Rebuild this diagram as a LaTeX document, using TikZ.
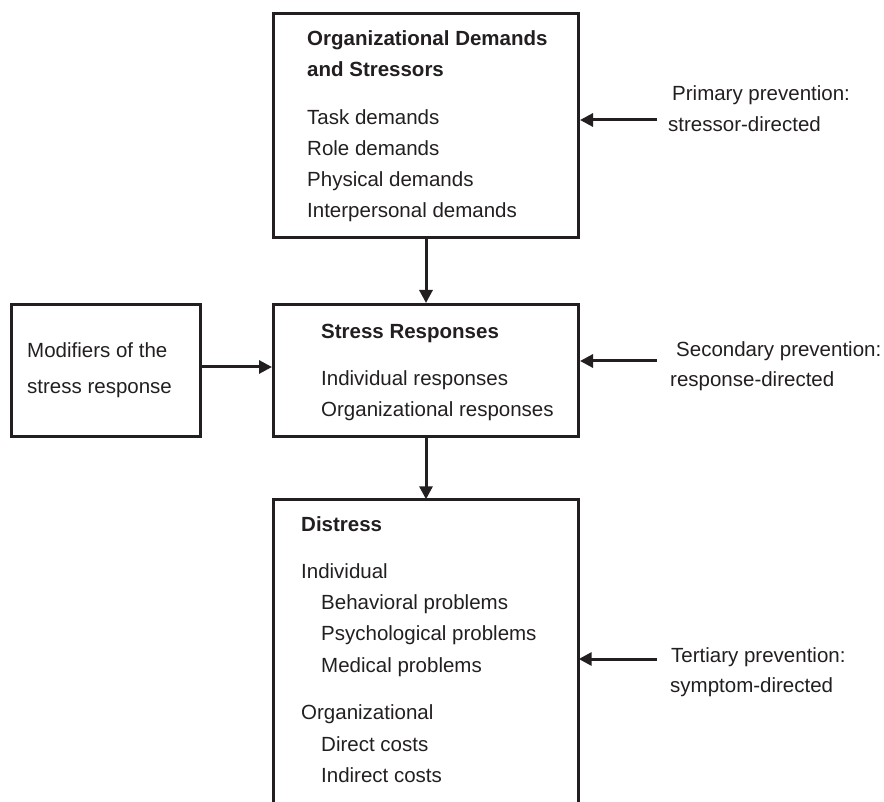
\documentclass[tikz,border=0pt]{standalone}
\usepackage{fontspec}
\setmainfont{Liberation Sans}
\usetikzlibrary{arrows.meta}
\definecolor{ink}{RGB}{35,31,32}
\begin{document}
\begin{tikzpicture}[x=1pt,y=-1pt,
  every node/.style={text=ink},
  boxline/.style={draw=ink, line width=3pt},
  box/.style={boxline, rectangle, inner sep=0pt},
  txt/.style={anchor=base west, inner sep=0pt, font=\fontsize{20.5}{31}\selectfont},
  head/.style={txt, font=\fontsize{20.5}{31}\selectfont\bfseries},
  arr/.style={draw=ink, line width=3pt, -{Triangle[length=13pt,width=13pt]}}
]
\clip (0,0) rectangle (884,802);

% boxes
\node[box, minimum width=305, minimum height=224] (top) at (426,125.5) {};
\node[box, minimum width=305, minimum height=132] (resp) at (426,370.5) {};
\node[box, minimum width=189, minimum height=132] (mod) at (106,370.5) {};
\node[rectangle, inner sep=0pt, minimum width=305, minimum height=306] (dist) at (426,652.5) {};
\draw[boxline] (dist.south west) -- (dist.north west) -- (dist.north east) -- (dist.south east);

% organizational demands and stressors
\node[head] (tTitleA) at (307,46) {Organizational Demands};
\node[head] (tTitleB) at (307,77) {and Stressors};
\node[txt] (tTask) at (307,125) {Task demands};
\node[txt] (tRole) at (307,156) {Role demands};
\node[txt] (tPhys) at (307,187) {Physical demands};
\node[txt] (tInter) at (307,218) {Interpersonal demands};

% stress responses
\node[head] (rTitle) at (321,339) {Stress Responses};
\node[txt] (rInd) at (321,386) {Individual responses};
\node[txt] (rOrg) at (321,417) {Organizational responses};

% modifiers
\node[txt] (mA) at (27,358) {Modifiers of the};
\node[txt] (mB) at (27,394) {stress response};

% distress
\node[head] (dTitle) at (301,531) {Distress};
\node[txt] (dInd) at (301,578) {Individual};
\node[txt] (dBeh) at (321,609) {Behavioral problems};
\node[txt] (dPsy) at (321,640) {Psychological problems};
\node[txt] (dMed) at (321,672) {Medical problems};
\node[txt] (dOrg) at (301,719) {Organizational};
\node[txt] (dDir) at (321,751) {Direct costs};
\node[txt] (dIndir) at (321,782) {Indirect costs};

% prevention labels
\node[txt] (pA) at (672,101) {Primary prevention:};
\node[txt] (pB) at (668,132) {stressor-directed};
\node[txt] (sA) at (676,357) {Secondary prevention:};
\node[txt] (sB) at (670,387) {response-directed};
\node[txt] (qA) at (671,662) {Tertiary prevention:};
\node[txt] (qB) at (670,692) {symptom-directed};

\coordinate (pStart) at (657,120);
\coordinate (sStart) at (657,361);
\coordinate (qStart) at (657,659);

% connectors
\draw[arr] (top.south) -- (resp.north);
\draw[arr] (resp.south) -- (dist.north);
\draw[arr] ([yshift=3.5pt]mod.east) -- ([yshift=3.5pt]resp.west);
\draw[arr] (pStart) -- (pStart -| top.east);
\draw[arr] (sStart) -- (sStart -| resp.east);
\draw[arr] (qStart) -- (qStart -| dist.east);
\end{tikzpicture}
\end{document}
